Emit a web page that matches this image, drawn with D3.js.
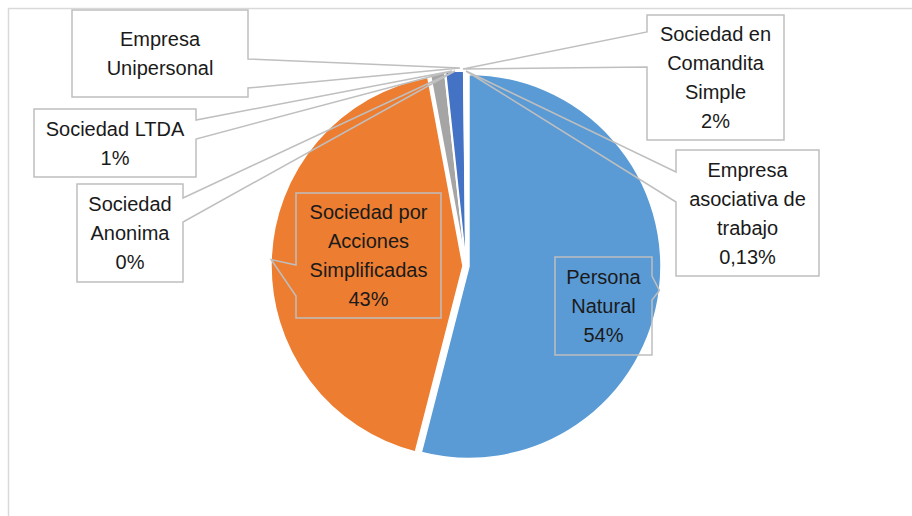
<!DOCTYPE html>
<html>
<head>
<meta charset="utf-8">
<script src="https://cdn.jsdelivr.net/npm/d3@7"></script>
<style>
  html, body { margin: 0; padding: 0; background: #fff; }
  svg { display: block; font-family: "Liberation Sans", Arial, sans-serif; }
</style>
</head>
<body>
<svg id="chart" width="912" height="516"></svg>
<script>
// data (percent of total)
const categories = [
  "Persona Natural",
  "Sociedad por Acciones Simplificadas",
  "Sociedad LTDA",
  "Sociedad Anonima",
  "Sociedad en Comandita Simple",
  "Empresa asociativa de trabajo",
  "Empresa Unipersonal"
];
const values = [53.9, 43.0, 1.2, 0.05, 1.5, 0.13, 0.05];
const sliceColors = ["#5B9BD5", "#ED7D31", "#A5A5A5", "#FFC000", "#4472C4", "#70AD47", "#255E91"];
const labelLines = [
  ["Persona", "Natural", "54%"],
  ["Sociedad por", "Acciones", "Simplificadas", "43%"],
  ["Sociedad LTDA", "1%"],
  ["Sociedad", "Anonima", "0%"],
  ["Sociedad en", "Comandita", "Simple", "2%"],
  ["Empresa", "asociativa de", "trabajo", "0,13%"],
  ["Empresa", "Unipersonal"]
];

// callout placement (box = x0,y0,x1,y1 ; base = where the pointer leaves the box)
const callouts = [
  { box: [555, 257, 652, 355], side: "right", base: [276, 300] },
  { box: [296, 193, 441, 318], side: "left",  base: [265, 296] },
  { box: [34, 109, 196, 177],  side: "right", base: [120, 139], tip: [452, 71] },
  { box: [77, 184, 183, 282],  side: "right", base: [198, 222], tip: [455, 71] },
  { box: [647, 15, 784, 140],  side: "left",  base: [32, 67],   tip: [463, 69] },
  { box: [676, 150, 819, 276], side: "left",  base: [172, 202], tip: [466, 71] },
  { box: [72, 10, 248, 97],    side: "right", base: [59, 88],   tip: [460, 68] }
];

const svg = d3.select("#chart");
const cx = 466, cy = 266, radius = 192, explode = 3;
const lineH = 29;

// chart frame (runs off the right / bottom of the picture)
svg.append("rect")
  .attr("x", 8.5).attr("y", 8.5)
  .attr("width", 1000).attr("height", 1000)
  .attr("fill", "none")
  .attr("stroke", "#d9d9d9")
  .attr("stroke-width", 1.5);

const pie = d3.pie().sort(null).value(d => d);
const arcs = pie(values);
const arc = d3.arc().innerRadius(0).outerRadius(radius);

const offset = d => {
  const mid = (d.startAngle + d.endAngle) / 2;
  return [explode * Math.sin(mid), -explode * Math.cos(mid)];
};

const pieGroup = svg.append("g").attr("transform", `translate(${cx},${cy})`);
pieGroup.selectAll("path")
  .data(arcs)
  .join("path")
  .attr("d", arc)
  .attr("transform", d => `translate(${offset(d)})`)
  .attr("fill", (d, i) => sliceColors[i])
  .attr("stroke", "#fff")
  .attr("stroke-width", 1.5);

// callouts with wedge pointers
function calloutPath(c, tip) {
  const [x0, y0, x1, y1] = c.box;
  const [b0, b1] = c.base;
  const [tx, ty] = tip;
  if (c.side === "right") {
    return `M${x0},${y0}L${x1},${y0}L${x1},${b0}L${tx},${ty}L${x1},${b1}L${x1},${y1}L${x0},${y1}Z`;
  }
  return `M${x0},${y0}L${x1},${y0}L${x1},${y1}L${x0},${y1}L${x0},${b1}L${tx},${ty}L${x0},${b0}Z`;
}

const labelGroup = svg.append("g");
arcs.forEach((d, i) => {
  const c = callouts[i];
  let tip = c.tip;
  if (!tip) {
    const mid = (d.startAngle + d.endAngle) / 2;
    const rr = radius + explode;
    tip = [cx + rr * Math.sin(mid), cy - rr * Math.cos(mid)];
  }
  const g = labelGroup.append("g");
  g.append("path")
    .attr("d", calloutPath(c, tip))
    .attr("fill", "none")
    .attr("stroke", "#bfbfbf")
    .attr("stroke-width", 1.5)
    .attr("stroke-linejoin", "miter");

  const lines = labelLines[i];
  const midX = (c.box[0] + c.box[2]) / 2;
  const midY = (c.box[1] + c.box[3]) / 2;
  const top = midY - (lines.length - 1) * lineH / 2;
  g.selectAll("text")
    .data(lines)
    .join("text")
    .attr("x", midX)
    .attr("y", (t, k) => top + k * lineH)
    .attr("dy", "0.36em")
    .attr("text-anchor", "middle")
    .attr("font-size", "20px")
    .attr("fill", "#1a1a1a")
    .text(t => t);
});
</script>
</body>
</html>
